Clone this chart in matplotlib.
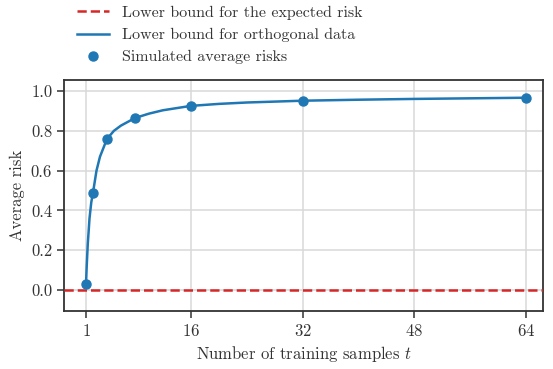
import matplotlib
matplotlib.use("Agg")
import matplotlib.pyplot as plt
import numpy as np

plt.rcParams["font.family"] = ["cmr10"]
plt.rcParams["mathtext.fontset"] = "cm"
plt.rcParams["axes.formatter.use_mathtext"] = True
plt.rcParams["axes.unicode_minus"] = False

# data
t_sim = [1, 2, 4, 8, 16, 32, 64]
risk_sim = [0.03, 0.489, 0.759, 0.864, 0.925, 0.951, 0.966]

t_curve = [1, 1.1, 1.25, 1.5, 1.75, 2, 2.5, 3, 4, 5, 6, 8, 10, 12, 16,
           20, 24, 32, 40, 48, 56, 64]
risk_curve = [0.03, 0.12, 0.23, 0.36, 0.44, 0.489, 0.60, 0.67, 0.759, 0.80,
              0.826, 0.864, 0.886, 0.903, 0.925, 0.935, 0.942, 0.951, 0.956,
              0.960, 0.963, 0.966]

expected_bound = 0.0
xticks = [1, 16, 32, 48, 64]
yticks = [0.0, 0.2, 0.4, 0.6, 0.8, 1.0]

BLUE = "#1f77b4"
RED = "#d62728"
DARK = "#333333"
FS = 12

fig = plt.figure(figsize=(5.53, 3.69), dpi=100)
ax = fig.add_axes([64 / 553, 1 - 311 / 369, (543 - 64) / 553, (311 - 80) / 369])

ax.axhline(expected_bound, color=RED, ls="--", lw=1.8, zorder=3,
           label="Lower bound for the expected risk")
ax.plot(t_curve, risk_curve, color=BLUE, lw=1.8, zorder=4,
        label="Lower bound for orthogonal data")
ax.plot(t_sim, risk_sim, "o", color=BLUE, ms=6.5, zorder=5, ls="none",
        label="Simulated average risks")

ax.set_xlim(-2.15, 66.4)
ax.set_ylim(-0.105, 1.055)
ax.set_xticks(xticks)
ax.set_yticks(yticks)
ax.set_yticklabels([f"{v:.1f}" for v in yticks])
ax.grid(True, color="#d9d9d9", lw=1.1)
ax.set_axisbelow(True)
ax.tick_params(direction="out", length=5, width=1.1, colors=DARK,
               labelsize=FS, labelcolor=DARK)
for s in ax.spines.values():
    s.set_color(DARK)
    s.set_linewidth(1.3)

ax.set_xlabel(r"Number of training samples $t$", fontsize=FS, color=DARK)
ax.set_ylabel("Average risk", fontsize=FS, color=DARK)

leg = ax.legend(loc="lower left", bbox_to_anchor=(0.0, 1.012), frameon=False,
                fontsize=11.5, handlelength=2.0, handletextpad=0.85,
                borderaxespad=0.4, labelspacing=0.5)
for txt in leg.get_texts():
    txt.set_color(DARK)

fig.savefig("out.png", dpi=100)
